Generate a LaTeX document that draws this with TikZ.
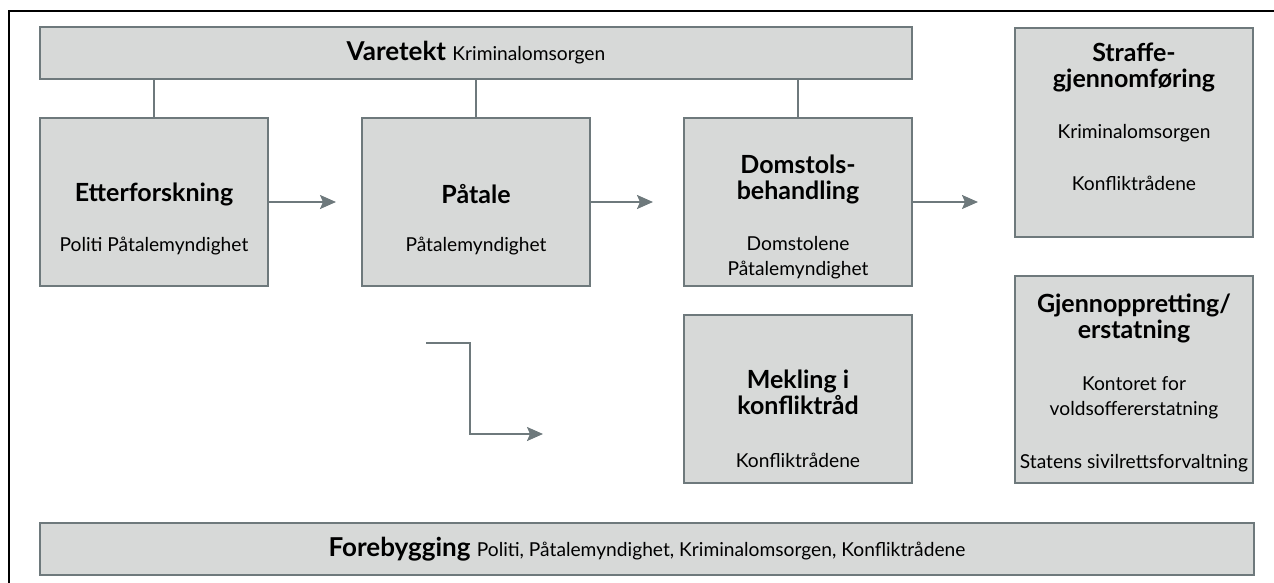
\documentclass[tikz,border=0pt]{standalone}
\usepackage{fontspec}
\setmainfont{Lato}
\usetikzlibrary{arrows.meta}

\definecolor{boxfill}{RGB}{215,217,216}
\definecolor{boxline}{RGB}{110,121,124}

\tikzset{
  stage/.style={draw=boxline, fill=boxfill, line width=1pt, inner sep=0pt, outer sep=0pt},
  stagetitle/.style={font=\bfseries\fontsize{12.5}{12.8}\selectfont, align=center, inner sep=0pt},
  stagesub/.style={font=\fontsize{9.6}{12.5}\selectfont, align=center, inner sep=0pt},
  link/.style={draw=boxline, line width=0.75pt},
  flow/.style={color=boxline, line width=0.9pt, -{Stealth[length=8pt,width=7pt,inset=1.5pt]}}
}

\begin{document}
\begin{tikzpicture}[x=0.5pt, y=-0.5pt]
	\useasboundingbox (0,0) rectangle (1274,583);

	% frame
	\draw[line width=1pt] (9,583) -- (9,11) -- (1274,11);

	\node[stage, minimum width=436pt, minimum height=26pt] (vare) at (476,53)
		{\bfseries\fontsize{13}{14}\selectfont Varetekt \mdseries\fontsize{9.6}{12.5}\selectfont Kriminalomsorgen};

	\node[stage, minimum width=114pt, minimum height=84pt] (etter) at (154,202) {};
	\node[stage, minimum width=114pt, minimum height=84pt] (patale) at (476,202) {};
	\node[stage, minimum width=114pt, minimum height=84pt] (domstol) at (798,202) {};
	\node[stage, minimum width=114pt, minimum height=84pt] (mekling) at (798,399) {};
	\node[stage, minimum width=119pt, minimum height=104.5pt] (straffe) at (1134,132.5) {};
	\node[stage, minimum width=119pt, minimum height=103.5pt] (gjenn) at (1134,379.5) {};

	\node[stage, minimum width=607pt, minimum height=26pt] (fore) at (647,549)
		{\bfseries\fontsize{13}{14}\selectfont Forebygging \mdseries\fontsize{9.6}{12.5}\selectfont Politi, Påtalemyndighet, Kriminalomsorgen, Konfliktrådene};

	\node[stagetitle] (etterT) at (154,194) {Etterforskning};
	\node[stagesub] (etterS) at (154,246) {Politi Påtalemyndighet};

	\node[stagetitle] (pataleT) at (476,194) {Påtale};
	\node[stagesub] (pataleS) at (476,246) {Påtalemyndighet};

	\node[stagetitle] (domstolT) at (798,179.5) {Domstols-\\behandling};
	\node[stagesub] (domstolS) at (798,257.5) {Domstolene\\Påtalemyndighet};

	\node[stagetitle] (meklingT) at (798,392.5) {Mekling i\\konfliktråd};
	\node[stagesub] (meklingS) at (798,460) {Konfliktrådene};

	\node[stagetitle] (straffeT) at (1134,67.5) {Straffe-\\gjennomføring};
	\node[stagesub] (straffeS1) at (1134,133) {Kriminalomsorgen};
	\node[stagesub] (straffeS2) at (1134,183) {Konfliktrådene};

	\node[stagetitle] (gjennT) at (1134,318.5) {Gjennoppretting/\\erstatning};
	\node[stagesub] (gjennS1) at (1134,398) {Kontoret for\\voldsoffererstatning};
	\node[stagesub] (gjennS2) at (1134,463) {Statens sivilrettsforvaltning};

	\draw[link] (etter.north) -- (etter.north |- vare.south);
	\draw[link] (patale.north) -- (patale.north |- vare.south);
	\draw[link] (domstol.north) -- (domstol.north |- vare.south);

	\coordinate (tipA) at (336,202);
	\coordinate (tipB) at (653,202);
	\coordinate (tipC) at (978,202);
	\coordinate (bendA) at (426,343);
	\coordinate (tipD) at (543,434);

	\draw[flow] (etter.east) -- (tipA);
	\draw[flow] (patale.east) -- (tipB);
	\draw[flow] (domstol.east) -- (tipC);
	\draw[flow] (bendA) -- ++(44,0) |- (tipD);

\end{tikzpicture}
\end{document}
